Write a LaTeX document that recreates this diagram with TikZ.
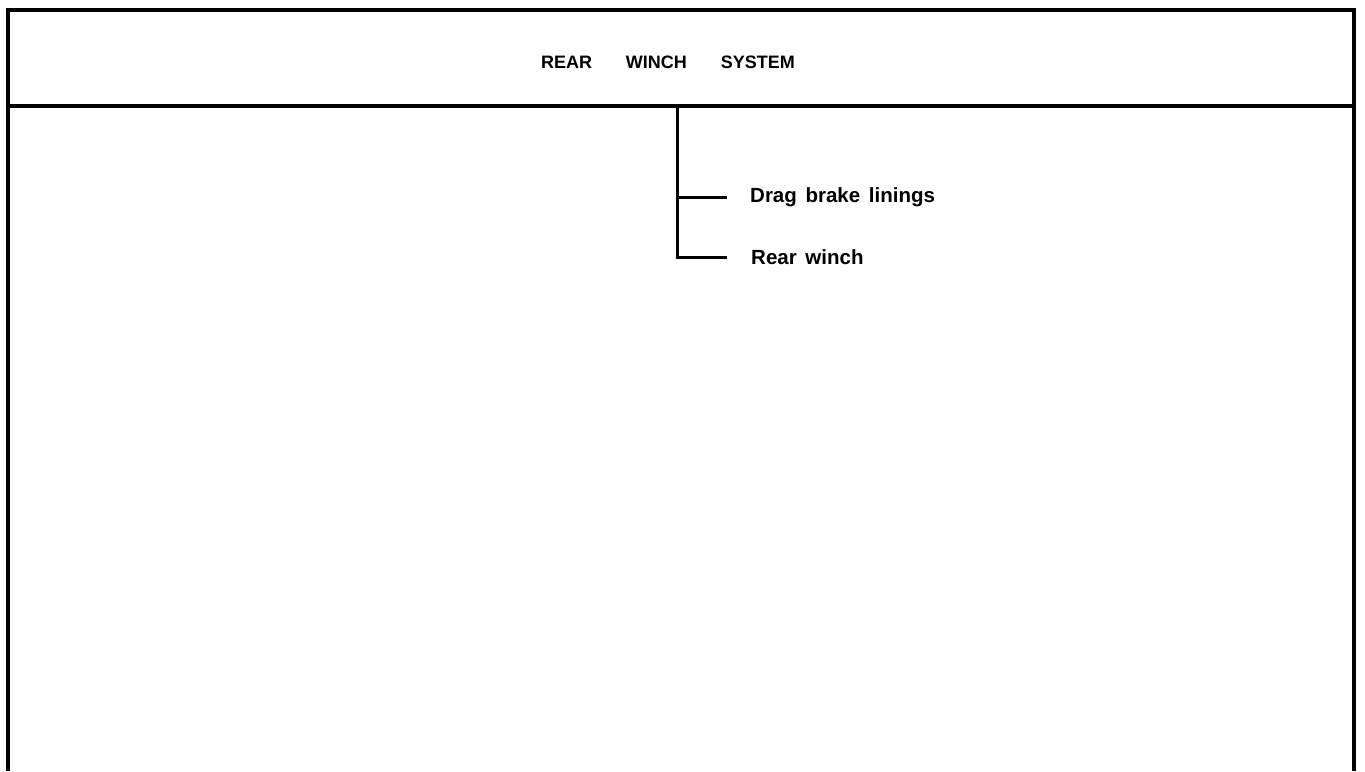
\documentclass[tikz,border=0pt]{standalone}
\usepackage{fontspec}
\setmainfont{Liberation Sans}
\begin{document}
\begin{tikzpicture}[x=1pt, y=-1pt,
    frame/.style={line width=4.5pt, line join=miter},
    branch/.style={line width=3pt},
    lbl/.style={anchor=west, inner sep=0pt, font=\fontsize{20.5}{24}\selectfont\bfseries}]
      \useasboundingbox (0,0) rectangle (1365,771);
      \draw[frame] (8,771) -- (8,10) -- (1354,10) -- (1354,771);
      \draw[frame] (8,106) -- (1354,106);
      \node (title) at (668,62) {\fontsize{18}{22}\selectfont\bfseries REAR\hspace{34pt}WINCH\hspace{34pt}SYSTEM};
      \coordinate (trunk) at (677,106);
      \node[lbl] (drag) at (750,197) {Drag\hspace{3pt} brake\hspace{3pt} linings};
      \node[lbl] (winch) at (751,257) {Rear\hspace{3pt} winch};
      \draw[branch] (trunk) |- ([xshift=-24pt]winch.west);
      \draw[branch] (trunk) |- ([xshift=-23pt]drag.west);
    \end{tikzpicture}
\end{document}
